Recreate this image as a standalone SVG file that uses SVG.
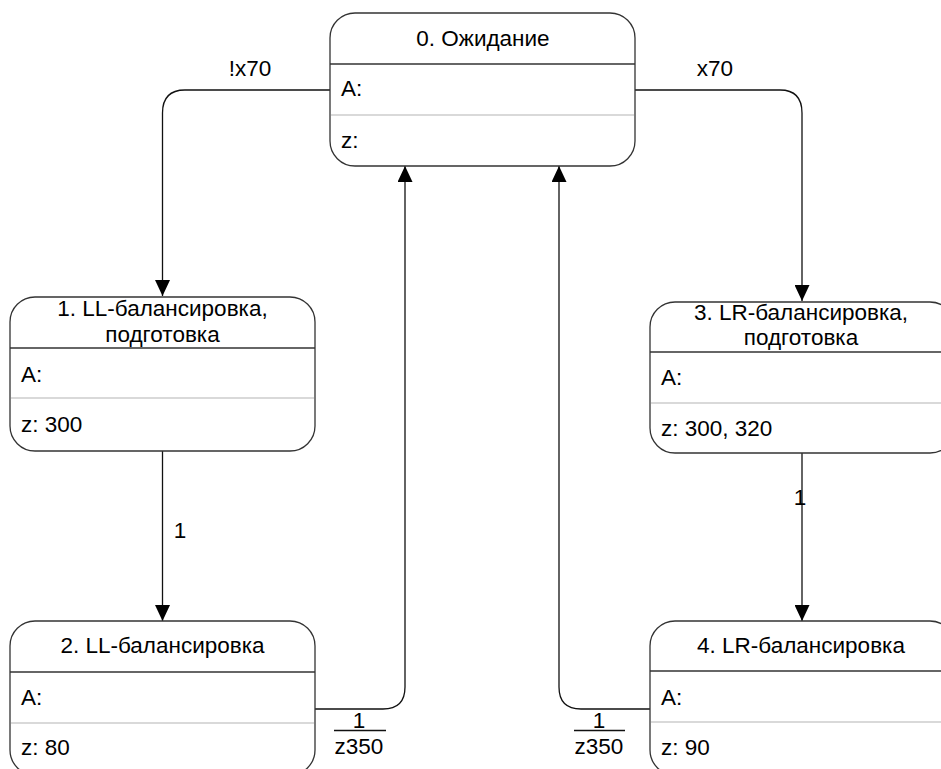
<svg xmlns="http://www.w3.org/2000/svg" width="941" height="769" viewBox="0 0 941 769">
<style>
.box{fill:#fff;stroke:#333;stroke-width:1.3}
.hsep{stroke:#333;stroke-width:1.3}
.lsep{stroke:#ccc;stroke-width:1.5}
text{font-family:"Liberation Sans",Arial,sans-serif;font-size:22.5px;fill:#000}
.t{text-anchor:middle}
.c{fill:none;stroke:#111;stroke-width:1.3}
.bar{stroke:#111;stroke-width:1.3}
</style>
<defs>
<marker id="ah" viewBox="0 0 16 15" refX="16" refY="7.5" markerWidth="16" markerHeight="15" markerUnits="userSpaceOnUse" orient="auto">
<path d="M0,0 L16,7.5 L0,15 Z" fill="#000"/>
</marker>
</defs>
<g id="connectors">
<path class="c" d="M330,90 H185 Q162.5,90 162.5,113 V296" marker-end="url(#ah)"/>
<path class="c" d="M635,90 H780 Q802,90 802,113 V301" marker-end="url(#ah)"/>
<path class="c" d="M162.5,451 V621" marker-end="url(#ah)"/>
<path class="c" d="M802,453 V621" marker-end="url(#ah)"/>
<path class="c" d="M314,709 H383 Q405,709 405,687 V166" marker-end="url(#ah)"/>
<path class="c" d="M650,709 H581 Q559,709 559,687 V166" marker-end="url(#ah)"/>
<text x="250" y="76" class="t">!x70</text>
<text x="715" y="76" class="t">x70</text>
<text x="180" y="538" class="t">1</text>
<text x="800" y="505" class="t">1</text>
<text x="359" y="728" class="t">1</text>
<line class="bar" x1="334" y1="730.5" x2="386" y2="730.5"/>
<text x="359" y="754" class="t">z350</text>
<text x="599" y="728" class="t">1</text>
<line class="bar" x1="574" y1="730.5" x2="625" y2="730.5"/>
<text x="599" y="754" class="t">z350</text>
</g>
<g id="node0">
<rect class="box" x="330" y="13" width="305" height="153" rx="25"/>
<line class="hsep" x1="330" y1="64" x2="635" y2="64"/>
<line class="lsep" x1="331" y1="115" x2="634" y2="115"/>
<text x="483" y="46" class="t">0. Ожидание</text>
<text x="341" y="96">A:</text>
<text x="341" y="148">z:</text>
</g>
<g id="node1">
<rect class="box" x="10" y="297" width="305" height="154" rx="25"/>
<line class="hsep" x1="10" y1="348" x2="315" y2="348"/>
<line class="lsep" x1="11" y1="398" x2="314" y2="398"/>
<text x="162.5" y="316" class="t">1. LL-балансировка,</text>
<text x="162.5" y="342" class="t">подготовка</text>
<text x="21" y="382">A:</text>
<text x="21" y="432">z: 300</text>
</g>
<g id="node2">
<rect class="box" x="10" y="621" width="305" height="154" rx="25"/>
<line class="hsep" x1="10" y1="672" x2="315" y2="672"/>
<line class="lsep" x1="11" y1="723" x2="314" y2="723"/>
<text x="162.5" y="653" class="t">2. LL-балансировка</text>
<text x="21" y="705">A:</text>
<text x="21" y="755">z: 80</text>
</g>
<g id="node3">
<rect class="box" x="650" y="302" width="305" height="151" rx="25"/>
<line class="hsep" x1="650" y1="352" x2="955" y2="352"/>
<line class="lsep" x1="651" y1="403" x2="954" y2="403"/>
<text x="801" y="320" class="t">3. LR-балансировка,</text>
<text x="801" y="345" class="t">подготовка</text>
<text x="661" y="385">A:</text>
<text x="661" y="436">z: 300, 320</text>
</g>
<g id="node4">
<rect class="box" x="650" y="621" width="305" height="154" rx="25"/>
<line class="hsep" x1="650" y1="671" x2="955" y2="671"/>
<line class="lsep" x1="651" y1="722" x2="954" y2="722"/>
<text x="801" y="653" class="t">4. LR-балансировка</text>
<text x="661" y="705">A:</text>
<text x="661" y="755">z: 90</text>
</g>
</svg>
